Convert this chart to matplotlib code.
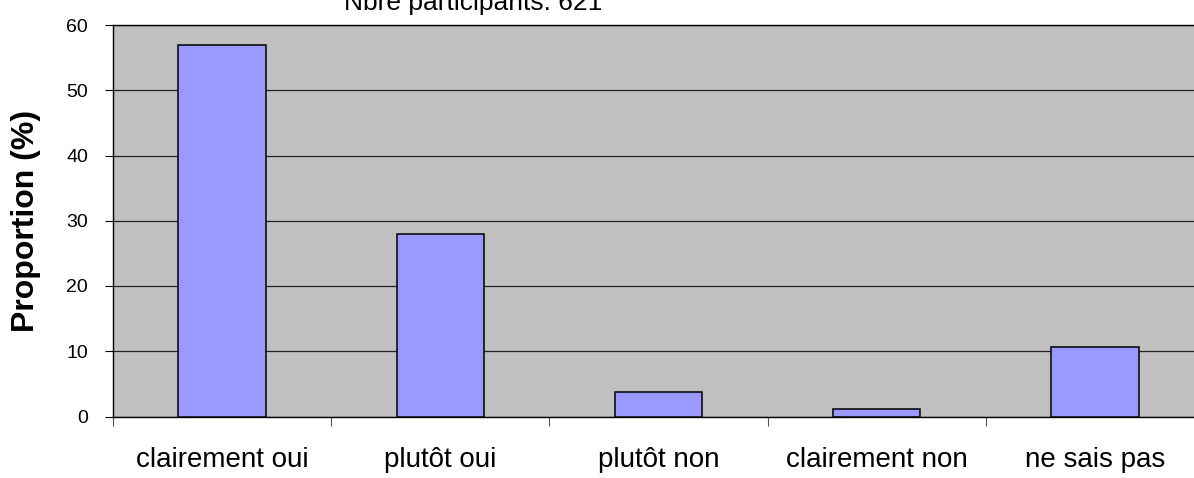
import numpy as np
import matplotlib.pyplot as plt

plt.rcParams['font.family'] = ['Liberation Sans', 'DejaVu Sans']

# Survey answers and share of participants (%)
categories = ['clairement oui', 'plutôt oui', 'plutôt non', 'clairement non', 'ne sais pas']
proportions = [57.0, 28.0, 3.8, 1.1, 10.7]
y_ticks = [0, 10, 20, 30, 40, 50, 60]
n_participants = 621

fig = plt.figure(figsize=(11.94, 4.78), dpi=100)
ax = fig.add_axes([113 / 1194, 61.5 / 478, 1091 / 1194, 391.5 / 478])
ax.set_facecolor('#C0C0C0')

x = np.arange(len(categories))
ax.bar(x, proportions, width=0.4, color='#9999FF', edgecolor='black', linewidth=1.1, zorder=3)

ax.set_xlim(-0.5, len(categories) - 0.5)
ax.set_ylim(0, 60)
ax.set_yticks(y_ticks)
ax.yaxis.grid(True, color='#222222', linewidth=0.9, zorder=1)
ax.tick_params(axis='y', direction='out', length=6, width=0.8, pad=12, labelsize=14)

# category boundaries as ticks, names as minor ticks in between
ax.set_xticks(np.arange(len(categories) + 1) - 0.5)
ax.set_xticklabels([])
ax.set_xticks(x, minor=True)
ax.set_xticklabels(categories, minor=True, fontsize=20)
ax.tick_params(axis='x', which='major', direction='out', length=6.5, width=0.8, color='#555555')
ax.tick_params(axis='x', which='minor', length=0, pad=22)

for side in ['left', 'top', 'bottom', 'right']:
    ax.spines[side].set_color('black')
    ax.spines[side].set_linewidth(1.0)

ax.set_ylabel('Proportion (%)', fontsize=23, fontweight='bold', labelpad=18)

# the count sits at the very top edge, partly clipped as in the original
fig.text(473 / 1194, 1 - 10 / 478, 'Nbre participants: %d' % n_participants,
         fontsize=19, ha='center', va='baseline')

fig.savefig('out.png', dpi=100)
